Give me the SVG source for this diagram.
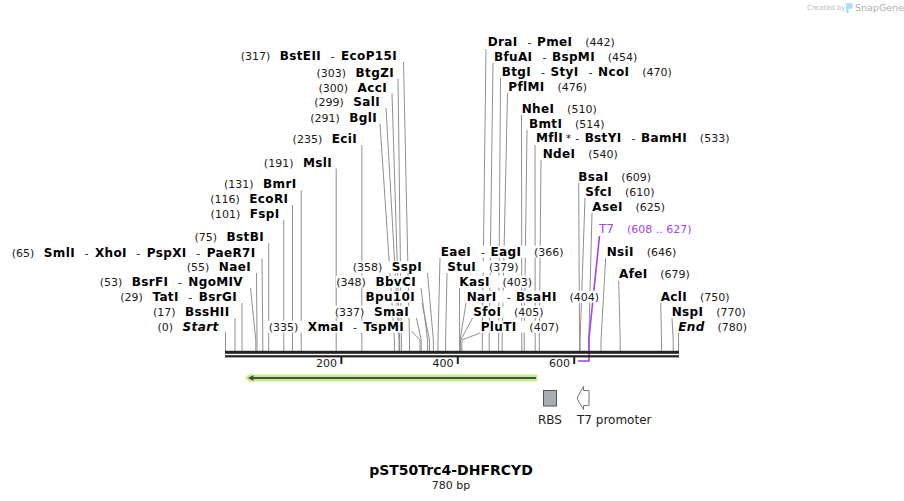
<svg xmlns="http://www.w3.org/2000/svg" width="904" height="501" viewBox="0 0 904 501">
<style>
text{font-family:'DejaVu Sans',sans-serif;font-size:11px;fill:#1a1a1a}
.b{font-weight:bold;font-size:12px;fill:#000;letter-spacing:0.35px}
.i{font-style:italic}
.bg{fill:#fff}
.c path{stroke:#8f8f8f;stroke-width:1;fill:none}
.pu{fill:#a044f0}
</style>
<rect width="904" height="501" fill="#fff"/>
<g id="watermark">
<text x="807" y="10" style="font-size:7px;fill:#bdbdbd">Created by</text>
<path d="M846,3 h4 a3,3 0 0 1 0,6 h-1.5 v4 h-2.5 z" fill="#b5dcf5"/>
<text x="855" y="11" style="font-size:9.5px;fill:#b0b0b0">SnapGene</text>
</g>
<g id="connectors" class="c">
<path d="M403.5,62 L409.5,340 V351"/>
<path d="M398,78.5 L401.4,340 V351"/>
<path d="M392,93.5 L399.6,340 V351"/>
<path d="M386,108 L399,340 V351"/>
<path d="M380,123.5 L394.4,340 V351"/>
<path d="M361.8,145 V351"/>
<path d="M336.2,168.5 V351"/>
<path d="M301.2,190 V351"/>
<path d="M292.5,205 V351"/>
<path d="M283.8,220 V351"/>
<path d="M268.7,243 V351"/>
<path d="M262,258.5 L262.8,340 V351"/>
<path d="M256.5,273 L257,340 V351"/>
<path d="M250.5,288 L255.8,340 V351"/>
<path d="M242,303 V351"/>
<path d="M235,318 V351"/>
<path d="M225.5,332 V351"/>
<path d="M427.5,273 L433.4,340 V351"/>
<path d="M421,288 L427.6,340 V351"/>
<path d="M422,303 L429.5,340 V351"/>
<path d="M416.5,318 L421.2,340 V351"/>
<path d="M411.5,331 L420,340 V351"/>
<path d="M486,49 L482.3,340 V351"/>
<path d="M493,63 L489.2,340 V351"/>
<path d="M500.5,78 L498.6,340 V351"/>
<path d="M507.5,93 L502.1,340 V351"/>
<path d="M521.5,115 L521.8,340 V351"/>
<path d="M527,130 L524.2,340 V351"/>
<path d="M535,145 L535.2,340 V351"/>
<path d="M541,160 L539.3,340 V351"/>
<path d="M578.7,183 L579.5,340 V351"/>
<path d="M585,198 L580.1,340 V351"/>
<path d="M592,213 L588.8,340 V351"/>
<path d="M605.7,258 L601,340 V351"/>
<path d="M618.7,281 L620.2,340 V351"/>
<path d="M660.7,303 L661.5,340 V351"/>
<path d="M672,318 L673.2,340 V351"/>
<path d="M678.5,333 V351"/>
<path d="M440,258 L438,340 V351"/>
<path d="M447,273 L445.6,340 V351"/>
<path d="M459.5,288 L459.6,340 V351"/>
<path d="M466,303 L460.1,340 V351"/>
<path d="M472.5,318 L460.7,340 V351"/>
<path d="M480,333 L461.9,340 V351"/>
</g>
<g id="t7-feature">
<path d="M599.5,236 L589,338 V361 H578" stroke="#a044f0" stroke-width="1.6" fill="none"/>
<text x="599" y="233" class="pu" style="font-size:12px"><tspan class="pu">T7</tspan><tspan class="pu" dx="13" style="font-size:11px">(608 .. 627)</tspan></text>
</g>
<g id="sequence">
<rect x="225" y="350.8" width="454" height="3" fill="#222"/>
<rect x="225" y="355.2" width="454" height="2.2" fill="#222"/>
<rect x="340.4" y="357" width="2" height="7" fill="#222"/>
<rect x="456.8" y="357" width="2" height="7" fill="#222"/>
<rect x="573.2" y="357" width="2" height="7" fill="#222"/>
<text x="337" y="367" text-anchor="end">200</text>
<text x="453.5" y="367" text-anchor="end">400</text>
<text x="570" y="367" text-anchor="end">600</text>
</g>
<g id="dhfr">
<path d="M251.5,374.5 H537.5 V381.5 H251.5 V383.5 L245,378 L251.5,372.5 Z" fill="#c4f08c"/>
<path d="M252,378 H536" stroke="#4a4a4a" stroke-width="2"/>
<path d="M248,378 L253.5,375 V381 Z" fill="#4a4a4a"/>
</g>
<g id="rbs">
<rect x="543.5" y="390.5" width="13" height="15.5" fill="#a9acb3" stroke="#555" stroke-width="1"/>
<text x="550" y="424" text-anchor="middle" style="font-size:12px;fill:#222">RBS</text>
</g>
<g id="t7-promoter">
<path d="M589,390.5 H583.5 V386.5 L577.5,397 V399.5 L583.5,409.5 V405.5 H589 Z" fill="#fff" stroke="#777" stroke-width="1"/>
<text x="577" y="424" style="font-size:12px;fill:#222">T7 promoter</text>
</g>
<g id="title">
<text x="451" y="475" text-anchor="middle" style="font-size:14px;font-weight:bold;fill:#000">pST50Trc4-DHFRCYD</text>
<text x="451" y="489" text-anchor="middle" style="fill:#222">780 bp</text>
</g>
<g id="labels-left">
<g id="BstEII"><rect class="bg" x="239" y="50" width="159" height="12"/><text x="397" y="60" text-anchor="end"><tspan>(317)</tspan><tspan class="b" dx="9.5">BstEII</tspan><tspan dx="9.5">-</tspan><tspan class="b" dx="6.5">EcoP15I</tspan></text></g>
<g id="BtgZI"><rect class="bg" x="317" y="66.7" width="78" height="12"/><text x="394" y="76.7" text-anchor="end"><tspan>(303)</tspan><tspan class="b" dx="9.5">BtgZI</tspan></text></g>
<g id="AccI"><rect class="bg" x="317" y="81.7" width="71" height="12"/><text x="387" y="91.7" text-anchor="end"><tspan>(300)</tspan><tspan class="b" dx="9.5">AccI</tspan></text></g>
<g id="SalI"><rect class="bg" x="313" y="96.3" width="68" height="12"/><text x="380" y="106.3" text-anchor="end"><tspan>(299)</tspan><tspan class="b" dx="9.5">SalI</tspan></text></g>
<g id="BglI"><rect class="bg" x="309" y="111.7" width="69" height="12"/><text x="377" y="121.7" text-anchor="end"><tspan>(291)</tspan><tspan class="b" dx="9.5">BglI</tspan></text></g>
<g id="EciI"><rect class="bg" x="292" y="133.3" width="66" height="12"/><text x="357" y="143.3" text-anchor="end"><tspan>(235)</tspan><tspan class="b" dx="9.5">EciI</tspan></text></g>
<g id="MslI"><rect class="bg" x="263" y="156.7" width="70" height="12"/><text x="332" y="166.7" text-anchor="end"><tspan>(191)</tspan><tspan class="b" dx="9.5">MslI</tspan></text></g>
<g id="BmrI"><rect class="bg" x="222" y="178.3" width="75" height="12"/><text x="296.5" y="188.3" text-anchor="end"><tspan>(131)</tspan><tspan class="b" dx="9.5">BmrI</tspan></text></g>
<g id="EcoRI"><rect class="bg" x="208" y="193.3" width="81" height="12"/><text x="288.3" y="203.3" text-anchor="end"><tspan>(116)</tspan><tspan class="b" dx="9.5">EcoRI</tspan></text></g>
<g id="FspI"><rect class="bg" x="209" y="208" width="71" height="12"/><text x="279.5" y="218" text-anchor="end"><tspan>(101)</tspan><tspan class="b" dx="9.5">FspI</tspan></text></g>
<g id="BstBI"><rect class="bg" x="195" y="231.3" width="70" height="12"/><text x="264" y="241.3" text-anchor="end"><tspan>(75)</tspan><tspan class="b" dx="9.5">BstBI</tspan></text></g>
<g id="SmlI"><rect class="bg" x="12" y="246.7" width="244" height="12"/><text x="255.5" y="256.7" text-anchor="end"><tspan>(65)</tspan><tspan class="b" dx="9.5">SmlI</tspan><tspan dx="9.5">-</tspan><tspan class="b" dx="6.5">XhoI</tspan><tspan dx="9.5">-</tspan><tspan class="b" dx="6.5">PspXI</tspan><tspan dx="9.5">-</tspan><tspan class="b" dx="6.5">PaeR7I</tspan></text></g>
<g id="NaeI"><rect class="bg" x="187" y="261.3" width="65" height="12"/><text x="251" y="271.3" text-anchor="end"><tspan>(55)</tspan><tspan class="b" dx="9.5">NaeI</tspan></text></g>
<g id="BsrFI"><rect class="bg" x="101" y="275.7" width="143" height="12"/><text x="243" y="285.7" text-anchor="end"><tspan>(53)</tspan><tspan class="b" dx="9.5">BsrFI</tspan><tspan dx="9.5">-</tspan><tspan class="b" dx="6.5">NgoMIV</tspan></text></g>
<g id="TatI"><rect class="bg" x="119" y="290.7" width="119" height="12"/><text x="237" y="300.7" text-anchor="end"><tspan>(29)</tspan><tspan class="b" dx="9.5">TatI</tspan><tspan dx="9.5">-</tspan><tspan class="b" dx="6.5">BsrGI</tspan></text></g>
<g id="BssHII"><rect class="bg" x="150" y="305.7" width="80" height="12"/><text x="229.5" y="315.7" text-anchor="end"><tspan>(17)</tspan><tspan class="b" dx="9.5">BssHII</tspan></text></g>
<g id="Start"><rect class="bg" x="160" y="320.7" width="59" height="12"/><text x="218.5" y="330.7" text-anchor="end"><tspan>(0)</tspan><tspan class="b i" dx="9.5">Start</tspan></text></g>
<g id="SspI"><rect class="bg" x="352" y="261.3" width="71" height="12"/><text x="422" y="271.3" text-anchor="end"><tspan>(358)</tspan><tspan class="b" dx="9.5">SspI</tspan></text></g>
<g id="BbvCI"><rect class="bg" x="336" y="275.7" width="81" height="12"/><text x="416" y="285.7" text-anchor="end"><tspan>(348)</tspan><tspan class="b" dx="9.5">BbvCI</tspan></text></g>
<g id="Bpu10I"><rect class="bg" x="365" y="290.7" width="51" height="12"/><text x="415" y="300.7" text-anchor="end" class="b">Bpu10I</text></g>
<g id="SmaI"><rect class="bg" x="334" y="305.7" width="76" height="12"/><text x="409" y="315.7" text-anchor="end"><tspan>(337)</tspan><tspan class="b" dx="9.5">SmaI</tspan></text></g>
<g id="XmaI"><rect class="bg" x="267" y="320.7" width="138" height="12"/><text x="404" y="330.7" text-anchor="end"><tspan>(335)</tspan><tspan class="b" dx="9.5">XmaI</tspan><tspan dx="9.5">-</tspan><tspan class="b" dx="6.5">TspMI</tspan></text></g>
</g>
<g id="labels-right">
<g id="DraI"><rect class="bg" x="487.7" y="36.3" width="128" height="12"/><text x="487.7" y="46.3"><tspan class="b">DraI</tspan><tspan dx="10">-</tspan><tspan class="b" dx="5.5">PmeI</tspan><tspan dx="12.8">(442)</tspan></text></g>
<g id="BfuAI"><rect class="bg" x="494" y="50.7" width="143" height="12"/><text x="494" y="60.7"><tspan class="b">BfuAI</tspan><tspan dx="10">-</tspan><tspan class="b" dx="5.5">BspMI</tspan><tspan dx="12.8">(454)</tspan></text></g>
<g id="BtgI"><rect class="bg" x="501.7" y="65.7" width="168" height="12"/><text x="501.7" y="75.7"><tspan class="b">BtgI</tspan><tspan dx="10">-</tspan><tspan class="b" dx="5.5">StyI</tspan><tspan dx="10">-</tspan><tspan class="b" dx="5.5">NcoI</tspan><tspan dx="12.8">(470)</tspan></text></g>
<g id="PflMI"><rect class="bg" x="508.3" y="80.7" width="78" height="12"/><text x="508.3" y="90.7"><tspan class="b">PflMI</tspan><tspan dx="12.8">(476)</tspan></text></g>
<g id="NheI"><rect class="bg" x="521.7" y="103" width="76" height="12"/><text x="521.7" y="113"><tspan class="b">NheI</tspan><tspan dx="12.8">(510)</tspan></text></g>
<g id="BmtI"><rect class="bg" x="529" y="118" width="76" height="12"/><text x="529" y="128"><tspan class="b">BmtI</tspan><tspan dx="12.8">(514)</tspan></text></g>
<g id="MflI"><rect class="bg" x="536" y="132.3" width="198" height="12"/><text x="536" y="142.3"><tspan class="b">MflI</tspan><tspan dx="2.5">*</tspan><tspan dx="4">-</tspan><tspan class="b" dx="5.5">BstYI</tspan><tspan dx="10">-</tspan><tspan class="b" dx="5.5">BamHI</tspan><tspan dx="12.8">(533)</tspan></text></g>
<g id="NdeI"><rect class="bg" x="542.7" y="148" width="75" height="12"/><text x="542.7" y="158"><tspan class="b">NdeI</tspan><tspan dx="12.8">(540)</tspan></text></g>
<g id="BsaI"><rect class="bg" x="578.3" y="170.7" width="73" height="12"/><text x="578.3" y="180.7"><tspan class="b">BsaI</tspan><tspan dx="12.8">(609)</tspan></text></g>
<g id="SfcI"><rect class="bg" x="585.3" y="185.7" width="71" height="12"/><text x="585.3" y="195.7"><tspan class="b">SfcI</tspan><tspan dx="12.8">(610)</tspan></text></g>
<g id="AseI"><rect class="bg" x="592.3" y="200.7" width="74" height="12"/><text x="592.3" y="210.7"><tspan class="b">AseI</tspan><tspan dx="12.8">(625)</tspan></text></g>
<g id="NsiI"><rect class="bg" x="606.7" y="245.7" width="69" height="12"/><text x="606.7" y="255.7"><tspan class="b">NsiI</tspan><tspan dx="12.8">(646)</tspan></text></g>
<g id="AfeI"><rect class="bg" x="619" y="268" width="72" height="12"/><text x="619" y="278"><tspan class="b">AfeI</tspan><tspan dx="12.8">(679)</tspan></text></g>
<g id="AclI"><rect class="bg" x="660.7" y="290.7" width="70" height="12"/><text x="660.7" y="300.7"><tspan class="b">AclI</tspan><tspan dx="12.8">(750)</tspan></text></g>
<g id="NspI"><rect class="bg" x="671.7" y="305.7" width="70" height="12"/><text x="671.7" y="315.7"><tspan class="b">NspI</tspan><tspan dx="12.8">(770)</tspan></text></g>
<g id="End"><rect class="bg" x="678.3" y="320.7" width="71" height="12"/><text x="678.3" y="330.7"><tspan class="b i">End</tspan><tspan dx="12.8">(780)</tspan></text></g>
<g id="EaeI"><rect class="bg" x="440.7" y="245.7" width="122" height="12"/><text x="440.7" y="255.7"><tspan class="b">EaeI</tspan><tspan dx="10">-</tspan><tspan class="b" dx="5.5">EagI</tspan><tspan dx="12.8">(366)</tspan></text></g>
<g id="StuI"><rect class="bg" x="447.3" y="260.7" width="73" height="12"/><text x="447.3" y="270.7"><tspan class="b">StuI</tspan><tspan dx="12.8">(379)</tspan></text></g>
<g id="KasI"><rect class="bg" x="459.3" y="275.7" width="73" height="12"/><text x="459.3" y="285.7"><tspan class="b">KasI</tspan><tspan dx="12.8">(403)</tspan></text></g>
<g id="NarI"><rect class="bg" x="466.7" y="290.7" width="133" height="12"/><text x="466.7" y="300.7"><tspan class="b">NarI</tspan><tspan dx="10">-</tspan><tspan class="b" dx="5.5">BsaHI</tspan><tspan dx="12.8">(404)</tspan></text></g>
<g id="SfoI"><rect class="bg" x="473.3" y="305.7" width="72" height="12"/><text x="473.3" y="315.7"><tspan class="b">SfoI</tspan><tspan dx="12.8">(405)</tspan></text></g>
<g id="PluTI"><rect class="bg" x="480.7" y="320.7" width="79" height="12"/><text x="480.7" y="330.7"><tspan class="b">PluTI</tspan><tspan dx="12.8">(407)</tspan></text></g>
</g>
</svg>
